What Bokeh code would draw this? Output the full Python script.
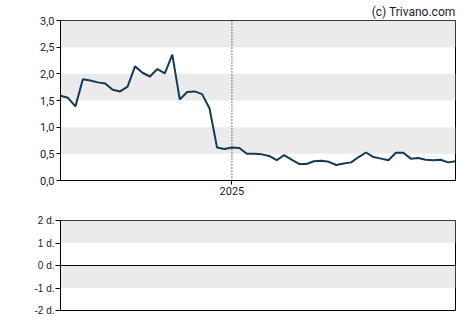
import pandas as pd
from bokeh.plotting import figure
from bokeh.layouts import column
from bokeh.models import (Range1d, FixedTicker, CustomJSTickFormatter, Span,
                          BoxAnnotation, Title)
from bokeh.embed import file_html
from bokeh.resources import INLINE

# ---- data (weekly closes) ----
prices = [1.59, 1.55, 1.39, 1.90, 1.875, 1.84, 1.82, 1.70, 1.67, 1.76,
          2.14, 2.02, 1.95, 2.09, 2.01, 2.36, 1.52, 1.66, 1.67, 1.62,
          1.35, 0.62, 0.59, 0.62, 0.61,
          0.50, 0.50, 0.49, 0.46, 0.38, 0.475, 0.39, 0.31, 0.31, 0.36,
          0.37, 0.35, 0.29, 0.32, 0.34, 0.44, 0.525, 0.44, 0.41, 0.38,
          0.52, 0.52, 0.41, 0.42, 0.39, 0.38, 0.39, 0.34, 0.36]
start_date = "2024-07-24"
dates = pd.date_range(start_date, periods=len(prices), freq="7D")
year_marker = "2025-01-01"
price_ticks = [0.0, 0.5, 1.0, 1.5, 2.0, 2.5, 3.0]
price_bands = [(0.5, 1.0), (1.5, 2.0), (2.5, 3.0)]
lower_ticks = [-2, -1, 0, 1, 2]
lower_labels = {-2: "-2 d.", -1: "-1 d.", 0: "0 d.", 1: "1 d.", 2: "2 d."}
lower_bands = [(-1, 0), (1, 2)]
credit = "(c) Trivano.com"

LINE = "#123b57"
BAND = "#ebebeb"
TXT = "#1c1c2c"

x0 = dates[0]
x1 = dates[-1]
marker_ts = pd.Timestamp(year_marker)

p = figure(width=470, height=200, x_axis_type="datetime",
           x_range=Range1d(x0, x1), y_range=Range1d(0, 3),
           output_backend="svg", toolbar_location=None,
           min_border_left=60, min_border_right=14,
           min_border_top=0, min_border_bottom=20)
p.title = Title(text=credit, align="right", text_font="Roboto",
                text_font_size="12px", text_font_style="normal",
                text_color=TXT, offset=0, standoff=4)
p.xgrid.visible = False
p.ygrid.visible = False
p.outline_line_color = "black"
p.outline_line_alpha = 1
p.background_fill_color = "white"
p.border_fill_color = "white"

for b, t in price_bands:
    p.add_layout(BoxAnnotation(bottom=b, top=t, fill_color=BAND, fill_alpha=1,
                               line_alpha=0, level="underlay"))

p.add_layout(Span(location=marker_ts, dimension="height", line_color="black",
                  line_dash="1 2", line_width=1))

p.line(dates, prices, line_color=LINE, line_width=2)

p.yaxis.ticker = FixedTicker(ticks=price_ticks)
p.yaxis.formatter = CustomJSTickFormatter(code="return tick.toFixed(1).replace('.', ',');")
p.xaxis.ticker = FixedTicker(ticks=[marker_ts.value / 1e6])
p.xaxis.formatter = CustomJSTickFormatter(code="return String(new Date(tick).getUTCFullYear());")
for ax in (p.xaxis, p.yaxis):
    ax.major_tick_out = 4
    ax.major_tick_in = 0
    ax.minor_tick_line_color = None
    ax.axis_line_color = "black"
    ax.major_tick_line_color = "black"
    ax.major_label_text_font = "Roboto"
    ax.major_label_text_font_size = "11px"
    ax.major_label_text_color = TXT
    ax.major_label_standoff = 2

q = figure(width=470, height=125, x_axis_type="datetime",
           x_range=Range1d(x0, x1), y_range=Range1d(-2, 2),
           output_backend="svg", toolbar_location=None,
           min_border_left=60, min_border_right=15,
           min_border_top=20, min_border_bottom=15)
q.xgrid.visible = False
q.ygrid.visible = False
q.outline_line_color = "black"
q.outline_line_alpha = 1
q.xaxis.visible = False
for b, t in lower_bands:
    q.add_layout(BoxAnnotation(bottom=b, top=t, fill_color=BAND, fill_alpha=1,
                               line_alpha=0, level="underlay"))
q.add_layout(Span(location=0, dimension="width", line_color="black", line_width=1))
q.yaxis.ticker = FixedTicker(ticks=lower_ticks)
q.yaxis.major_label_overrides = lower_labels
q.yaxis.major_tick_out = 5
q.yaxis.major_tick_in = 0
q.yaxis.minor_tick_line_color = None
q.yaxis.axis_line_color = "black"
q.yaxis.major_label_text_font = "Liberation Sans"
q.yaxis.major_label_text_font_size = "10px"
q.yaxis.major_label_text_color = TXT
q.yaxis.major_label_standoff = 1

layout = column(p, q, spacing=0)
open("out.html", "w").write(file_html(layout, INLINE))
